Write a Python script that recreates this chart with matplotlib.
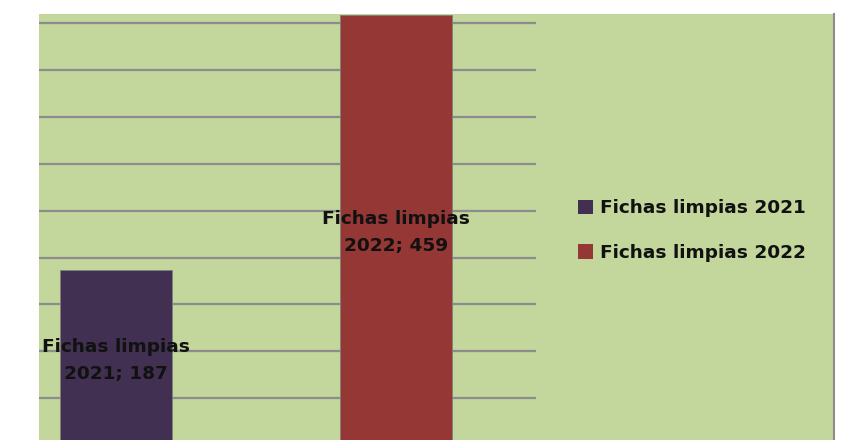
import matplotlib
matplotlib.use("Agg")
import matplotlib.pyplot as plt
from matplotlib.patches import Rectangle
from matplotlib.lines import Line2D
from matplotlib.transforms import offset_copy

series_names = ["Fichas limpias 2021", "Fichas limpias 2022"]
values = [187, 459]
colors = ["#413051", "#953735"]
label_texts = ["Fichas limpias\n2021; 187", "Fichas limpias\n2022; 459"]
grid_values = [50, 100, 150, 200, 250, 300, 350, 400, 450]

FONT = "DejaVu Sans"
FS = 13.3

W, H = 857, 440
fig = plt.figure(figsize=(W / 100, H / 100), dpi=100)
fig.patch.set_facecolor("white")

# green chart area
fig.patches.append(Rectangle((39 / W, 0), (833 - 39) / W, (H - 14) / H,
                             transform=fig.transFigure, facecolor="#C3D69B",
                             edgecolor="none", zorder=-5))
fig.lines.append(Line2D([833.5 / W, 833.5 / W], [0, (H - 14) / H],
                        transform=fig.transFigure, color="#8C8C8C", lw=1.5, zorder=-4))

ymax = 460
bottom_px = 445.2
ax = fig.add_axes([39 / W, (H - bottom_px) / H, (536 - 39) / W, (bottom_px - 13.7) / H])
ax.set_zorder(1)
ax.set_facecolor("none")
ax.set_ylim(0, ymax)
ax.set_xlim(-0.2764, 1.4986)
for s in ax.spines.values():
    s.set_visible(False)
ax.set_xticks([])
ax.set_yticks(grid_values)
ax.tick_params(axis="y", length=0, labelleft=False)
ax.yaxis.grid(True, color="#8C8C8C", lw=1.6)
ax.set_axisbelow(True)

bars = ax.bar(range(len(values)), values, width=0.4, color=colors,
              edgecolor="#7F7F7F", linewidth=0.6, zorder=2)
tr = offset_copy(ax.transData, fig=fig, x=0, y=-3, units="dots")
for i, (v, t) in enumerate(zip(values, label_texts)):
    ax.text(i, v / 2, t, ha="center", va="center", fontsize=FS,
            fontweight="bold", family=FONT, color="#111111",
            linespacing=1.65, zorder=3, transform=tr)

handles = [Rectangle((0, 0), 1, 1, facecolor=c, edgecolor="none") for c in colors]
leg = fig.legend(handles, series_names, loc="center left",
                 bbox_to_anchor=(578 / W, 1 - 230.5 / H), frameon=False,
                 prop={"family": FONT, "weight": "bold", "size": FS},
                 handlelength=0.8, handleheight=0.8, handletextpad=0.4,
                 labelspacing=1.45, borderpad=0, borderaxespad=0)
leg.set_zorder(2)
for t in leg.get_texts():
    t.set_color("#111111")

fig.savefig("out.png", dpi=100, facecolor="white")
